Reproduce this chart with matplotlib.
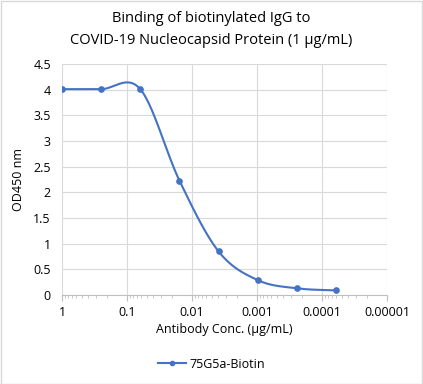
import numpy as np
import matplotlib.pyplot as plt

conc = [1.0, 0.25, 0.0625, 0.015625, 0.00390625, 0.0009765625, 0.000244140625, 0.00006103515625]
od450 = [4.01, 4.01, 4.01, 2.23, 0.85, 0.29, 0.13, 0.09]
series_name = "75G5a-Biotin"

blue = "#4472C4"
grid_c = "#D9D9D9"
txt_c = "#000000"


def smooth_curve(xs, ys, sx, sy, n=40):
    # Excel-style smoothed line: Catmull-Rom in screen-like units (log x)
    px = np.log10(xs) * sx
    py = np.array(ys) * sy
    P = np.column_stack([px, py])
    P = np.vstack([P[0], P, P[-1]])
    out = []
    for i in range(1, len(P) - 2):
        p0, p1, p2, p3 = P[i - 1], P[i], P[i + 1], P[i + 2]
        c1 = p1 + (p2 - p0) / 6
        c2 = p2 - (p3 - p1) / 6
        t = np.linspace(0, 1, n)[:, None]
        seg = ((1 - t) ** 3) * p1 + 3 * ((1 - t) ** 2) * t * c1 + 3 * (1 - t) * t ** 2 * c2 + t ** 3 * p2
        out.append(seg if i == 1 else seg[1:])
    out = np.vstack(out)
    return 10 ** (out[:, 0] / sx), out[:, 1] / sy


fig = plt.figure(figsize=(4.23, 3.84), dpi=100)
plt.rcParams['font.family'] = ['Open Sans', 'DejaVu Sans']
ax = fig.add_axes([62 / 423, 1 - 295 / 384, (387 - 62) / 423, (295 - 64) / 384])

cx, cy = smooth_curve(conc, od450, 65.0, 51.3)
ax.plot(cx, cy, color=blue, lw=1.5, zorder=3)
ax.plot(conc, od450, 'o', color=blue, ms=3.8, zorder=4)

ax.set_xscale('log')
ax.set_xlim(1, 0.00001)
ax.set_ylim(0, 4.5)
ax.set_yticks(np.arange(0, 4.51, 0.5))
ax.set_yticklabels(["0", "0.5", "1", "1.5", "2", "2.5", "3", "3.5", "4", "4.5"])
xt = [1, 0.1, 0.01, 0.001, 0.0001, 0.00001]
ax.set_xticks(xt)
ax.set_xticklabels(["1", "0.1", "0.01", "0.001", "0.0001", "0.00001"])

ax.grid(True, which='major', color=grid_c, lw=0.8)
ax.set_axisbelow(True)
for s in ['top', 'right', 'left']:
    ax.spines[s].set_visible(False)
ax.spines['bottom'].set_color("#BFBFBF")
ax.tick_params(axis='y', length=0, pad=8, labelsize=9, labelcolor=txt_c)
ax.tick_params(axis='x', which='major', length=4, color="#BFBFBF", pad=4, labelsize=9)
ax.tick_params(axis='x', which='minor', length=2.5, color="#BFBFBF")

ax.set_xlabel("Antibody Conc. (\u00b5g/mL)", fontsize=9, labelpad=3)
ax.set_ylabel("OD450 nm", fontsize=9, labelpad=6)

fig.text(0.5, 1 - 18 / 384, "Binding of biotinylated IgG to", ha='center', va='center', fontsize=10.5)
fig.text(0.5, 1 - 40 / 384, "COVID-19 Nucleocapsid Protein (1 \u00b5g/mL)", ha='center', va='center',
         fontsize=10.5)

ax.legend([plt.Line2D([], [], color=blue, lw=1.5, marker='o', ms=3)], [series_name],
          loc='center', bbox_to_anchor=(0.5, 1 - 364 / 384), bbox_transform=fig.transFigure,
          frameon=False, fontsize=9, handlelength=2.2, handletextpad=0.3)

fig.patches.append(plt.Rectangle((0.5 / 423, 0.5 / 384), 1 - 1.5 / 423, 1 - 1.5 / 384,
                                 transform=fig.transFigure, fill=False, ec="#D9D9D9", lw=1))
fig.savefig("out.png", dpi=100)
